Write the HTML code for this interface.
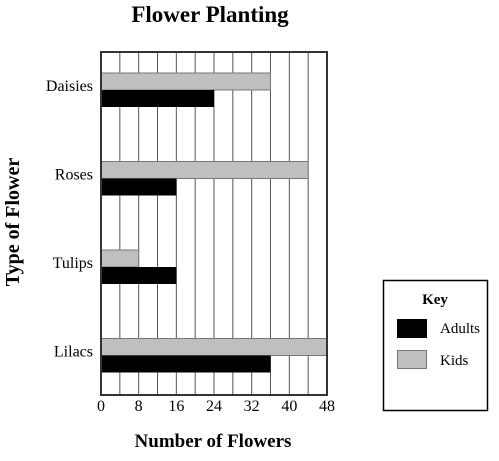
<!DOCTYPE html>
<html><head><meta charset="utf-8"><style>
body{margin:0;background:#fff;width:499px;height:456px;overflow:hidden}
text{font-family:"Liberation Serif",serif}
</style></head><body>
<svg id="chart" width="499" height="456">
<text x="210" y="22" font-size="23" font-weight="bold" text-anchor="middle">Flower Planting</text>
<text x="213" y="447" font-size="19" font-weight="bold" text-anchor="middle">Number of Flowers</text>
<text transform="translate(19,222) rotate(-90)" font-size="20" font-weight="bold" text-anchor="middle">Type of Flower</text>
<g id="plot"></g>
<g>
<rect x="383.5" y="280.5" width="104" height="130" fill="#fff" stroke="#000" stroke-width="1.5"/>
<text x="435" y="304" font-size="15" font-weight="bold" text-anchor="middle">Key</text>
<rect x="397" y="319" width="30" height="19" fill="#000"/>
<text x="440" y="333" font-size="15">Adults</text>
<rect x="397.5" y="350.5" width="29" height="18" fill="#bfbfbf" stroke="#777"/>
<text x="440" y="365" font-size="15">Kids</text>
</g>
</svg>
<script>
const categories=["Daisies","Roses","Tulips","Lilacs"];
const kids=[36,44,8,48];
const adults=[24,16,16,36];
const ticks=[0,8,16,24,32,40,48];
const NS="http://www.w3.org/2000/svg";
const L=101,R=327,T=52,B=395,MAX=48;
const x=v=>L+(R-L)*v/MAX;
const yc=i=>90+i*88.5;
const g=document.getElementById('plot');
function mk(t,a){const e=document.createElementNS(NS,t);for(const k in a)e.setAttribute(k,a[k]);g.appendChild(e);return e;}
for(let v=4;v<MAX;v+=4){const l=mk('line',{x1:x(v),x2:x(v),y1:T,y2:B,stroke:'#555','stroke-width':1});

}
categories.forEach((c,i)=>{
 const k=mk('rect',{x:x(0),y:yc(i)-17,width:x(kids[i])-x(0),height:17,fill:'#bfbfbf',stroke:'#777','stroke-width':1});
 
 
 const a=mk('rect',{x:x(0),y:yc(i),width:x(adults[i])-x(0),height:17,fill:'#000'});
 
 
 const t=mk('text',{x:93,y:yc(i)+1,'font-size':16,'text-anchor':'end'});t.textContent=c;
 
 
});
const fr=mk('rect',{x:L,y:T,width:R-L,height:B-T,fill:'none',stroke:'#333','stroke-width':2});


ticks.forEach(v=>{const t=mk('text',{x:x(v),y:411,'font-size':16,'text-anchor':'middle'});t.textContent=v;
 
 });
</script>
</body></html>
